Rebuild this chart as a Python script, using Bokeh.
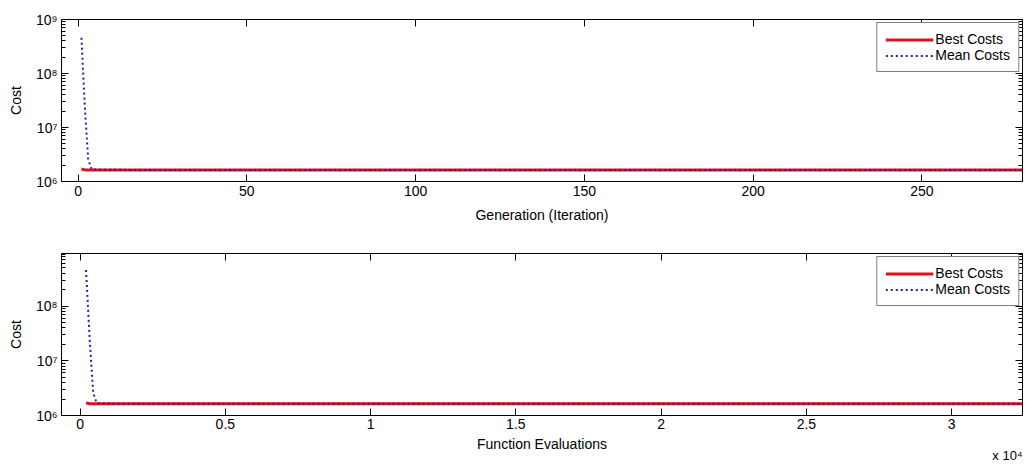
from bokeh.plotting import figure
from bokeh.models import (LinearAxis, Range1d, FixedTicker, CustomJSTickFormatter,
                          Legend, LegendItem, Title)
from bokeh.layouts import column
from bokeh.embed import file_html
from bokeh.resources import INLINE

# ---- data ----
GEN = [1, 2, 3, 4, 5, 6, 8, 10, 15, 20, 300]
NFE = [205, 330, 450, 570, 690, 810, 1050, 1290, 1890, 2490, 35000]
BEST = [1.70e6, 1.64e6, 1.64e6, 1.64e6, 1.64e6, 1.64e6, 1.64e6, 1.64e6, 1.64e6, 1.64e6, 1.64e6]
MEAN = [4.6e8, 2.5e7, 2.6e6, 1.68e6, 1.67e6, 1.66e6, 1.65e6, 1.645e6, 1.64e6, 1.64e6, 1.64e6]

TOP_XTICKS = [0, 50, 100, 150, 200, 250]
BOT_XTICKS = [0, 5000, 10000, 15000, 20000, 25000, 30000]
Y_TICKS = [1e6, 1e7, 1e8, 1e9]
Y_MINOR = [m * 10 ** e for e in range(5, 9) for m in range(2, 10)]

TOP_XRANGE = (-4.9, 279.8)
BOT_XRANGE = (-640, 32440)
TOP_YRANGE = (1e6, 1e9)
BOT_YRANGE = (1e6, 9.2e8)

FONT = "Liberation Sans"
RED = "#e3101c"
BLUE = "#22229a"

SUP_JS = """
const sup = {"0":"\u2070","1":"\u00b9","2":"\u00b2","3":"\u00b3","4":"\u2074","5":"\u2075","6":"\u2076","7":"\u2077","8":"\u2078","9":"\u2079","-":"\u207b"};
const e = Math.round(Math.log10(tick));
return "10" + String(e).split("").map(c => sup[c]).join("");
"""


def style_axis(ax, minor=True):
    ax.axis_line_color = "black"
    ax.axis_line_width = 1
    ax.major_tick_line_color = "black"
    ax.major_tick_in = 7
    ax.major_tick_out = 0
    if minor:
        ax.minor_tick_line_color = "black"
        ax.minor_tick_in = 4
        ax.minor_tick_out = 0
    else:
        ax.minor_tick_line_color = None
    ax.major_label_text_font = FONT
    ax.major_label_text_font_size = "14px"
    ax.major_label_text_color = "black"
    ax.axis_label_text_font = FONT
    ax.axis_label_text_font_size = "14px"
    ax.axis_label_text_font_style = "normal"
    ax.axis_label_text_color = "black"


def blank_axis(ax):
    ax.major_label_text_font_size = "0px"
    ax.major_label_standoff = 0
    ax.formatter = CustomJSTickFormatter(code="return '';")


def make_fig(x, xr, yr, xticks, xfmt_code, xlabel, top_border, bottom_border,
             tick_standoff, label_standoff):
    p = figure(frame_width=961, frame_height=162,
               x_range=Range1d(*xr), y_range=Range1d(*yr), y_axis_type="log",
               output_backend="svg", toolbar_location=None,
               min_border_left=61, min_border_right=3,
               min_border_top=top_border, min_border_bottom=bottom_border)
    p.xgrid.grid_line_color = None
    p.ygrid.grid_line_color = None
    p.outline_line_color = "black"
    p.outline_line_width = 1
    p.background_fill_color = "white"
    p.border_fill_color = "white"

    r1 = p.line(x, BEST, line_color=RED, line_width=3)
    r2 = p.line(x, MEAN, line_color=BLUE, line_width=2, line_dash="2 3")

    xt = FixedTicker(ticks=xticks)
    yt = FixedTicker(ticks=Y_TICKS, minor_ticks=Y_MINOR)

    xa = p.xaxis[0]
    xa.ticker = xt
    xa.formatter = CustomJSTickFormatter(code=xfmt_code)
    xa.axis_label = xlabel
    xa.major_label_standoff = tick_standoff
    xa.axis_label_standoff = label_standoff
    style_axis(xa, minor=False)

    ya = p.yaxis[0]
    ya.ticker = yt
    ya.formatter = CustomJSTickFormatter(code=SUP_JS)
    ya.axis_label = "Cost"
    ya.major_label_standoff = 4
    ya.axis_label_standoff = 9
    style_axis(ya)

    ra = LinearAxis(ticker=yt)
    style_axis(ra)
    blank_axis(ra)
    p.add_layout(ra, "right")

    ta = LinearAxis(ticker=xt)
    style_axis(ta, minor=False)
    blank_axis(ta)
    p.add_layout(ta, "above")

    leg = Legend(items=[LegendItem(label="Best Costs", renderers=[r1]),
                        LegendItem(label="Mean Costs", renderers=[r2])],
                 location="top_right")
    leg.border_line_color = "black"
    leg.border_line_width = 1
    leg.background_fill_color = "white"
    leg.background_fill_alpha = 1
    leg.label_text_font = FONT
    leg.label_text_font_size = "14px"
    leg.label_text_color = "black"
    leg.glyph_width = 48
    leg.glyph_height = 15
    leg.label_height = 15
    leg.label_standoff = 2
    leg.spacing = 0
    leg.padding = 8
    leg.margin = 3
    p.add_layout(leg)
    return p


p1 = make_fig(GEN, TOP_XRANGE, TOP_YRANGE, TOP_XTICKS,
              "return tick.toString();", "Generation (Iteration)", 19, 44, 4, 8)
p2 = make_fig(NFE, BOT_XRANGE, BOT_YRANGE, BOT_XTICKS,
              "return (tick / 1e4).toString();", "Function Evaluations", 28, 50, 3, 4)

mult = Title(text="x 10\u2074", align="right", standoff=-17,
             text_font=FONT, text_font_size="13px", text_font_style="normal",
             text_color="black")
p2.add_layout(mult, "below")

layout = column(p1, p2, spacing=0)
open("out.html", "w").write(file_html(layout, INLINE))
